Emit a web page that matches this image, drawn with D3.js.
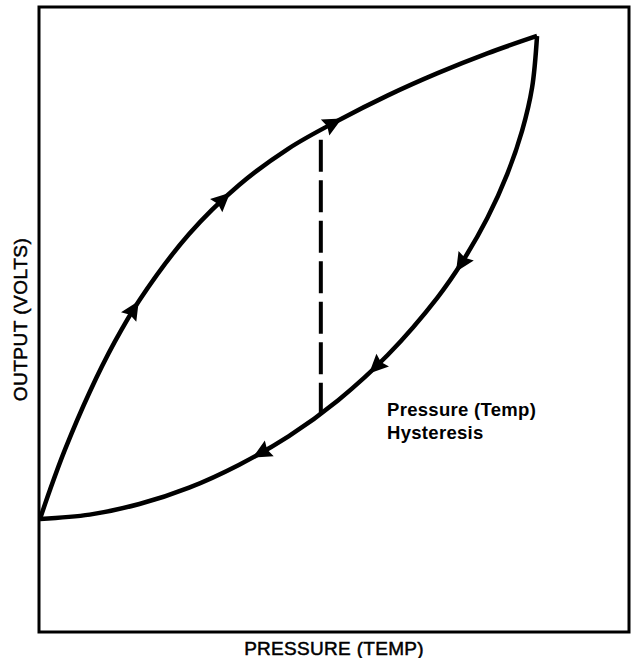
<!DOCTYPE html>
<html>
<head>
<meta charset="utf-8">
<script src="https://cdn.jsdelivr.net/npm/d3@7"></script>
<style>
  html, body { margin: 0; padding: 0; background: #fff; }
  svg { display: block; }
  text { font-family: "Liberation Sans", Arial, Helvetica, sans-serif; fill: #000; }
</style>
</head>
<body>
<svg id="chart" width="634" height="658"></svg>
<script>
// ---- Data (relative units: loop runs from (0,0) to (100,100)) ----
// Rising (increasing pressure) branch of the hysteresis loop
const upX = [0, 2, 5, 10, 15, 20, 30, 40, 50, 60, 70, 80, 90, 100];
const upY = [0, 6.0, 14.3, 26.3, 36.6, 45.3, 59.0, 69.1, 76.7, 82.5, 87.7, 92.3, 96.4, 100];
// Falling (decreasing pressure) branch
const downX = [100, 99, 97, 94, 90, 85, 80, 70, 60, 50, 40, 30, 20, 10, 0];
const downY = [100, 89.3, 80.4, 71.4, 62.3, 53.3, 45.9, 34.0, 24.6, 17.1, 11.2, 6.5, 3.1, 0.9, 0];
// Arrow positions (x values along each branch)
const upArrows = [18.7, 36.6, 58.8];
const downArrows = [84.9, 67.8, 44.7];
// Hysteresis marker (dashed vertical line)
const hystX = 56.5;
const hystTopY = 78.5;
const hystBottomY = 21.3;
// Plot frame extent in the same units
const xExtent = [-0.2, 118.5];
const yExtent = [-23.4, 106.0];
// Labels
const xLabel = "PRESSURE (TEMP)";
const yLabel = "OUTPUT (VOLTS)";
const noteLines = ["Pressure (Temp)", "Hysteresis"];

// ---- Layout ----
const svg = d3.select("#chart");
const mLeft = 39, mRight = 629, mTop = 7, mBottom = 632;

const x = d3.scaleLinear().domain(xExtent).range([mLeft, mRight]);
const y = d3.scaleLinear().domain(yExtent).range([mBottom, mTop]);

// Frame (box with no ticks)
svg.append("rect")
  .attr("x", x(xExtent[0])).attr("y", y(yExtent[1]))
  .attr("width", x(xExtent[1]) - x(xExtent[0])).attr("height", y(yExtent[0]) - y(yExtent[1]))
  .attr("fill", "none").attr("stroke", "#000").attr("stroke-width", 3);

const line = d3.line().x(d => x(d[0])).y(d => y(d[1])).curve(d3.curveCatmullRom.alpha(0.5));

const upPts = upX.map((v, i) => [v, upY[i]]);
const downPts = downX.map((v, i) => [v, downY[i]]);

const upPath = svg.append("path").datum(upPts).attr("d", line)
  .attr("fill", "none").attr("stroke", "#000").attr("stroke-width", 4.5);
const downPath = svg.append("path").datum(downPts).attr("d", line)
  .attr("fill", "none").attr("stroke", "#000").attr("stroke-width", 4.5);

// Dashed hysteresis line
svg.append("line")
  .attr("x1", x(hystX)).attr("x2", x(hystX))
  .attr("y1", y(hystTopY)).attr("y2", y(hystBottomY))
  .attr("stroke", "#000").attr("stroke-width", 4)
  .attr("stroke-dasharray", "32,8.5");

// Arrowheads placed on the path nearest each target x, oriented along travel direction
function placeArrows(pathSel, xs) {
  const node = pathSel.node();
  const L = node.getTotalLength();
  xs.forEach(xv => {
    const px = x(xv);
    let best = 0, bestD = Infinity;
    for (let s = 0; s <= L; s += 0.5) {
      const p = node.getPointAtLength(s);
      const d = Math.abs(p.x - px);
      if (d < bestD) { bestD = d; best = s; }
    }
    const p = node.getPointAtLength(best);
    const p2 = node.getPointAtLength(Math.min(L, best + 3));
    const p1 = node.getPointAtLength(Math.max(0, best - 3));
    const ang = Math.atan2(p2.y - p1.y, p2.x - p1.x) * 180 / Math.PI;
    svg.append("path")
      .attr("d", "M11,0 L-8,-9 L-5.5,0 L-8,9 Z")
      .attr("transform", `translate(${p.x},${p.y}) rotate(${ang})`)
      .attr("fill", "#000");
  });
}
placeArrows(upPath, upArrows);
placeArrows(downPath, downArrows);

// Annotation
const note = svg.append("text").attr("x", 387).attr("y", 416)
  .attr("font-size", 18.5).attr("font-weight", "bold").attr("letter-spacing", 0.3);
noteLines.forEach((t, i) => {
  note.append("tspan").attr("x", 387).attr("dy", i === 0 ? 0 : 23).text(t);
});

// Axis labels
svg.append("text").attr("x", (mLeft + mRight) / 2).attr("y", 655)
  .attr("text-anchor", "middle").attr("font-size", 19).attr("letter-spacing", 0.3)
  .attr("stroke", "#000").attr("stroke-width", 0.5)
  .text(xLabel);
svg.append("text")
  .attr("transform", `translate(27, ${(mTop + mBottom) / 2}) rotate(-90)`)
  .attr("text-anchor", "middle").attr("font-size", 19).attr("letter-spacing", 0.5)
  .attr("stroke", "#000").attr("stroke-width", 0.5)
  .text(yLabel);
</script>
</body>
</html>
